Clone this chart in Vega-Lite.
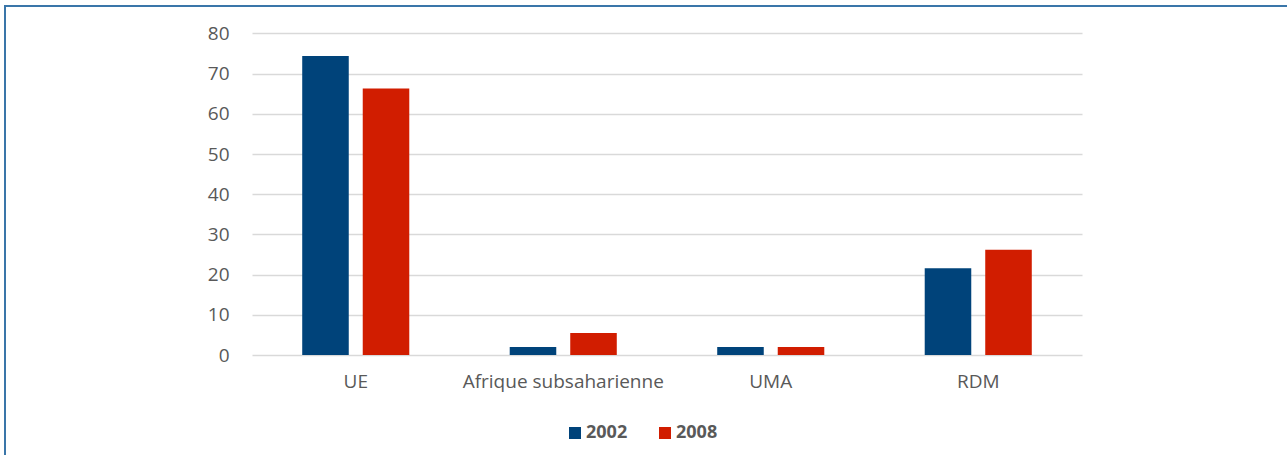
{
  "$schema": "https://vega.github.io/schema/vega-lite/v6.json",
  "autosize": {"type": "none"},
  "padding": {"left": 5, "top": 6, "right": -3, "bottom": -3},
  "width": 1285,
  "height": 452,
  "background": "white",
  "config": {
    "view": {"stroke": "#3a76a9", "strokeWidth": 2, "fill": "white"},
    "font": "Open Sans"
  },
  "data": {
    "values": [
      {"region": "UE", "year": "2002", "value": 74.4},
      {"region": "UE", "year": "2008", "value": 66.3},
      {"region": "Afrique subsaharienne", "year": "2002", "value": 2.0},
      {"region": "Afrique subsaharienne", "year": "2008", "value": 5.5},
      {"region": "UMA", "year": "2002", "value": 2.0},
      {"region": "UMA", "year": "2008", "value": 2.0},
      {"region": "RDM", "year": "2002", "value": 21.6},
      {"region": "RDM", "year": "2008", "value": 26.2}
    ]
  },
  "mark": {"type": "bar"},
  "encoding": {
    "x": {
      "field": "region",
      "type": "nominal",
      "sort": ["UE", "Afrique subsaharienne", "UMA", "RDM"],
      "scale": {"range": [247, 1077], "paddingInner": 0.484, "paddingOuter": 0.242},
      "axis": {
        "title": null,
        "labelAngle": 0,
        "labelLimit": 0,
        "domain": false,
        "ticks": false,
        "tickSize": 0,
        "offset": -103,
        "labelPadding": 17,
        "labelFont": "Open Sans",
        "labelFontSize": 19,
        "labelColor": "#595959"
      }
    },
    "xOffset": {
      "field": "year",
      "type": "nominal",
      "scale": {"paddingInner": 0.231, "paddingOuter": 0}
    },
    "y": {
      "field": "value",
      "type": "quantitative",
      "scale": {"domain": [0, 80], "range": [349, 27.4], "nice": false},
      "axis": {
        "title": null,
        "values": [0, 10, 20, 30, 40, 50, 60, 70, 80],
        "domain": false,
        "ticks": false,
        "tickSize": 0,
        "offset": -224,
        "labelPadding": 0,
        "labelFont": "Open Sans",
        "labelFontSize": 19,
        "labelColor": "#595959",
        "grid": true,
        "gridColor": "#d9d9d9",
        "gridWidth": 1.5
      }
    },
    "color": {
      "field": "year",
      "type": "nominal",
      "scale": {"domain": ["2002", "2008"], "range": ["#00437a", "#d11d00"]},
      "legend": {
        "title": null,
        "orient": "none",
        "direction": "horizontal",
        "legendX": 561,
        "legendY": 418,
        "padding": 0,
        "symbolType": "square",
        "symbolSize": 144,
        "symbolStrokeWidth": 0,
        "symbolOpacity": 1,
        "labelOffset": 2,
        "columnPadding": 28,
        "labelFont": "Open Sans",
        "labelFontSize": 18,
        "labelFontWeight": "bold",
        "labelColor": "#595959"
      }
    }
  }
}
